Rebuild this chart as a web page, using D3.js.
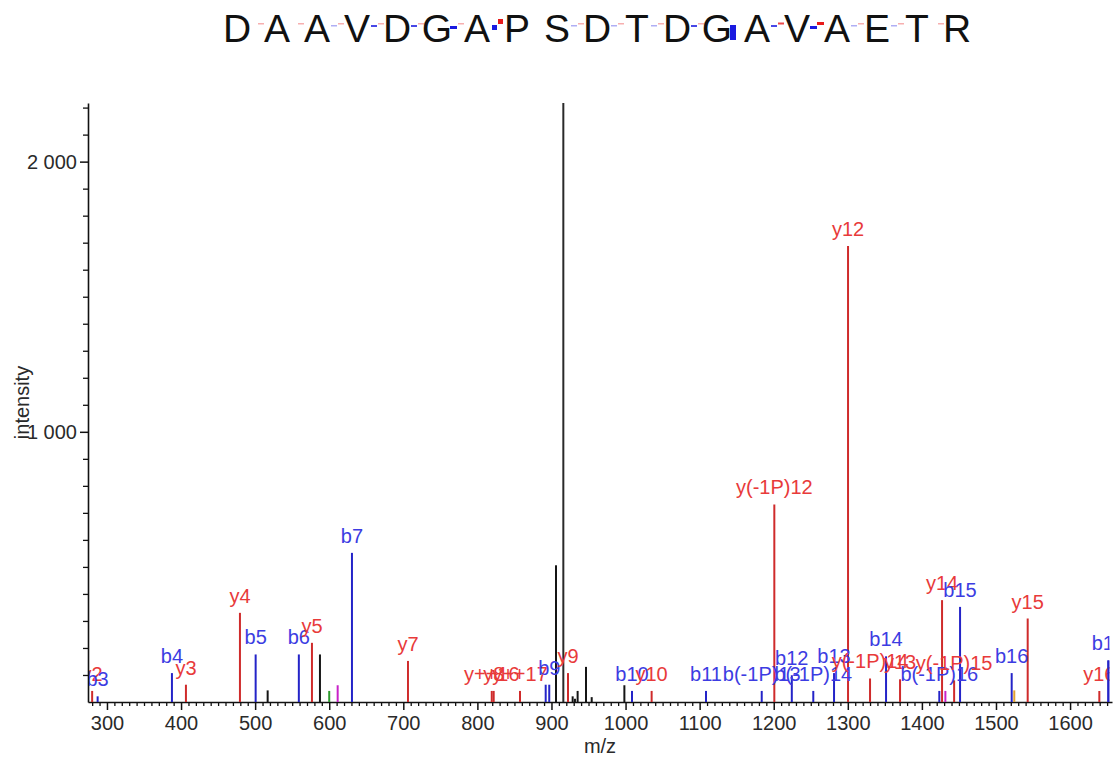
<!DOCTYPE html>
<html><head><meta charset="utf-8">
<script src="https://cdn.jsdelivr.net/npm/d3@7"></script>
<style>
body{margin:0;background:#fff;}
svg{display:block;font-family:"Liberation Sans",Arial,Helvetica,sans-serif;}
</style>
</head><body>
<svg id="chart" width="1115" height="757"></svg>
<script>
// ---------- data ----------
const residues = ["D","A","A","V","D","G","A","P","S","D","T","D","G","A","V","A","E","T","R"];
// coverage strength in the gap after each residue (0 none .. 5 strongest)
const bCoverage = [0,0,1,2,2,3,4,0,1,1,1,2,5,2,3,1,1,0];
const yCoverage = [1,1,1,1,1,1,4,0,1,1,1,1,0,2,3,1,1,1];

const peakMz = [280.0,287.4,387.7,406.6,479.5,500.7,516.9,559.0,576.7,587.5,600.0,611.4,630.7,706.3,
  819.4,822.0,857.5,892.2,897.0,906.1,916.0,922.3,928.6,931.7,935.3,946.6,954.3,998.4,1008.7,1035.2,
  1108.6,1183.8,1200.8,1224.4,1253.4,1281.4,1300.3,1330.0,1351.6,1370.5,1423.5,1427.2,1431.7,1443.5,
  1451.5,1521.2,1524.7,1542.8,1639.5,1651.7];
const peakIntensity = [41,21,107,64,330,176,43,176,219,176,41,62,552,152,
  41,41,41,64,64,506,2217,107,21,12,41,130,18,62,41,41,
  41,41,731,99,41,107,1688,87,169,84,41,377,41,80,
  352,107,43,309,41,154];
const peakType = ["y","b","b","y","y","b","n","b","y","n","g","m","b","y",
  "y","y","y","b","b","n","n","y","n","n","n","n","n","n","b","y",
  "b","b","y","b","b","b","y","y","b","y","b","y","m","y",
  "b","b","o","y","y","b"];
const peakLabel = ["y2","b3","b4","y3","y4","b5","","b6","y5","","","","b7","y7",
  "y++16","y8","y++17","","b9","","","y9","","","","","","","b10","y10",
  "b11","b(-1P)13","y(-1P)12","b12","b(-1P)14","b13","y12","y(-1P)14","b14","y13","b(-1P)16","y14","","y(-1P)15",
  "b15","b16","","y15","y16","b17"];

const xMajorTicks = [300,400,500,600,700,800,900,1000,1100,1200,1300,1400,1500,1600];
const yMajorTicks = [1000,2000];
const xAxisTitle = "m/z";
const yAxisTitle = "intensity";

// ---------- layout ----------
const svg = d3.select("#chart");
const pLeft = 88, pRight = 1112, pTop = 103, pBottom = 702;
const lineColor = {b:"#2424c8", y:"#cf2b2b", n:"#151515", g:"#2c9a2c", m:"#c822c8", o:"#e0a030"};
const textColor = {b:"#3c3ce2", y:"#e83a3a"};
const fs = 20;

const x = d3.scaleLinear().domain([274.4, 1656.6]).range([pLeft, pRight]);
const y = d3.scaleLinear().domain([0, d3.max(peakIntensity)]).range([pBottom, pTop]);

// ---------- title sequence ----------
const rx = d3.scalePoint().domain(d3.range(residues.length)).range([237, 957]);
const title = svg.append("g");
title.selectAll("text").data(residues).join("text")
  .attr("x", (d,i)=>rx(i)).attr("y", 42)
  .attr("text-anchor","middle").attr("font-size", 39).attr("fill","#111").text(d=>d);

const gaps = d3.range(residues.length-1);
const gapX = i => (rx(i)+rx(i+1))/2;
function covShape(level, kind){
  // returns [dx, y, w, h, opacity]
  if (kind==="b"){
    if (level===1) return [-6,25,6,1.5,0.35];
    if (level===2) return [-6,25,6,2,0.8];
    if (level===3) return [-7,26,7,3,1];
    if (level===4) return [-5,25,5,5,1];
    if (level===5) return [-7,25,6,15,1];
  } else {
    if (level===1) return [1,23,6,1.5,0.35];
    if (level===2) return [1,22.5,6,2,0.8];
    if (level===3) return [0,22,7,3,1];
    if (level===4) return [1,19,5,5,1];
  }
  return null;
}
[["b",bCoverage,"#1a1ae0"],["y",yCoverage,"#e81a1a"]].forEach(([k,arr,col])=>{
  title.selectAll("rect."+k).data(gaps.filter(i=>arr[i]>0)).join("rect").attr("class",k)
    .each(function(i){
      const s = covShape(arr[i], k);
      d3.select(this).attr("x", gapX(i)+s[0]).attr("y", s[1]).attr("width", s[2]).attr("height", s[3])
        .attr("fill", col).attr("fill-opacity", s[4]);
    });
});

// ---------- axes ----------
const fmt = d3.formatLocale({decimal:".", thousands:" ", grouping:[3], currency:["",""]}).format(",");

const xMinor = d3.range(280, 1660, 10).filter(v=>!xMajorTicks.includes(v));
svg.append("g").attr("transform",`translate(0,${pBottom})`)
  .call(d3.axisBottom(x).tickValues(xMinor).tickSize(4).tickFormat(""))
  .call(g=>g.select(".domain").remove())
  .call(g=>g.selectAll("line").attr("stroke","#111").attr("stroke-width",1.3));
svg.append("g").attr("transform",`translate(0,${pBottom})`)
  .call(d3.axisBottom(x).tickValues(xMajorTicks).tickSize(8).tickSizeOuter(0).tickPadding(6).tickFormat(d=>d))
  .call(g=>g.select(".domain").attr("stroke","#111").attr("stroke-width",1.6))
  .call(g=>g.selectAll("line").attr("stroke","#111").attr("stroke-width",1.5))
  .call(g=>g.selectAll("text").attr("font-size",fs).attr("fill","#2a2a2a"))
  .attr("font-family",null);

const yMinor = d3.range(100, 2201, 100).filter(v=>!yMajorTicks.includes(v));
svg.append("g").attr("transform",`translate(${pLeft},0)`)
  .call(d3.axisLeft(y).tickValues(yMinor).tickSize(5).tickFormat(""))
  .call(g=>g.select(".domain").remove())
  .call(g=>g.selectAll("line").attr("stroke","#111").attr("stroke-width",1.3));
svg.append("g").attr("transform",`translate(${pLeft},0)`)
  .call(d3.axisLeft(y).tickValues(yMajorTicks).tickSize(8).tickSizeOuter(0).tickPadding(3).tickFormat(fmt))
  .call(g=>g.select(".domain").attr("stroke","#111").attr("stroke-width",1.6))
  .call(g=>g.selectAll("line").attr("stroke","#111").attr("stroke-width",1.5))
  .call(g=>g.selectAll("text").attr("font-size",fs).attr("fill","#2a2a2a"))
  .attr("font-family",null);

svg.append("text").attr("x", (pLeft+pRight)/2).attr("y", 753).attr("text-anchor","middle")
  .attr("font-size",fs).attr("fill","#2a2a2a").text(xAxisTitle);
svg.append("text").attr("transform",`translate(29,${(pTop+pBottom)/2}) rotate(-90)`)
  .attr("text-anchor","middle").attr("font-size",fs).attr("fill","#2a2a2a").text(yAxisTitle);

// ---------- peaks ----------
svg.append("clipPath").attr("id","plotclip").append("rect")
  .attr("x", pLeft+1).attr("y", 0).attr("width", 1109.5-pLeft-1).attr("height", pBottom);

const peaks = peakMz.map((m,i)=>({m, v:peakIntensity[i], t:peakType[i], l:peakLabel[i]}));
const plot = svg.append("g").attr("clip-path","url(#plotclip)");
plot.selectAll("line.peak").data(peaks).join("line").attr("class","peak")
  .attr("x1", d=>x(d.m)).attr("x2", d=>x(d.m))
  .attr("y1", y(0)).attr("y2", d=>y(d.v))
  .attr("stroke", d=>d.v>2000 ? "#2a2a2a" : lineColor[d.t]).attr("stroke-width", 2);
// the last peak sits at the label clip edge; draw its stroke unclipped
svg.append("g").selectAll("line").data(peaks.filter(d=>x(d.m)>1105)).join("line")
  .attr("x1", d=>x(d.m)).attr("x2", d=>x(d.m))
  .attr("y1", y(0)).attr("y2", d=>y(d.v))
  .attr("stroke", d=>lineColor[d.t]).attr("stroke-width", 2);
plot.selectAll("text.lab").data(peaks.filter(d=>d.l)).join("text").attr("class","lab")
  .attr("x", d=>x(d.m)).attr("y", d=>y(d.v)-10)
  .attr("text-anchor","middle").attr("font-size",fs)
  .attr("fill", d=>textColor[d.t]).text(d=>d.l);
</script>
</body></html>
